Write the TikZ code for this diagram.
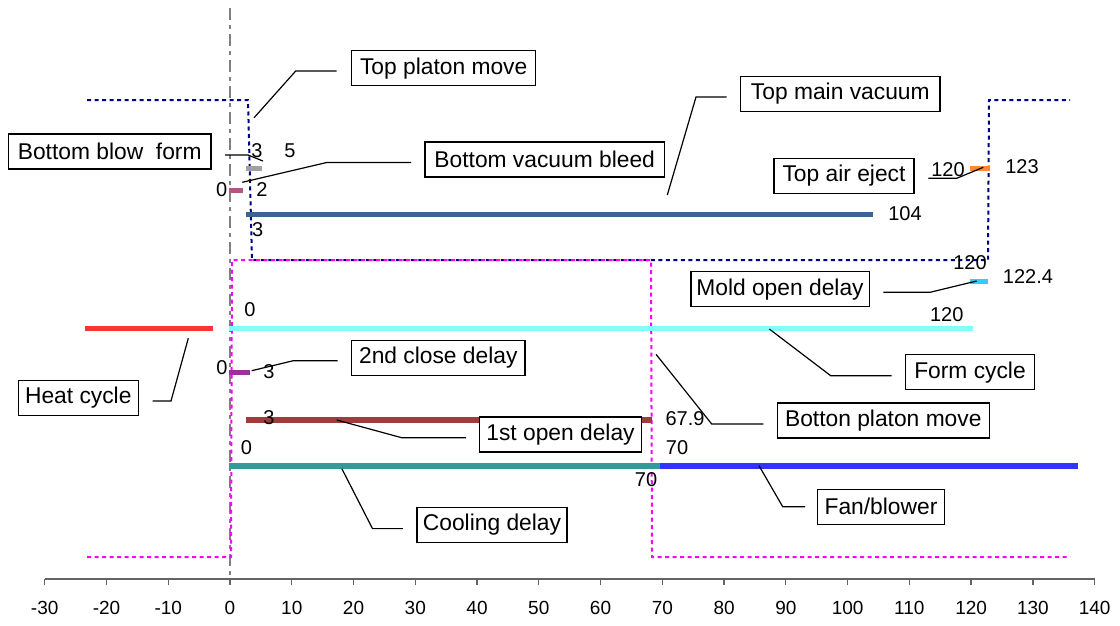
\documentclass[tikz,border=0pt]{standalone}
\usepackage{fontspec}
\setmainfont{Liberation Sans}
\definecolor{navyc}{RGB}{0,0,128}
\definecolor{magc}{RGB}{255,0,255}
\definecolor{axisc}{RGB}{100,100,100}
\definecolor{vaxc}{RGB}{128,128,128}
\definecolor{cgray}{RGB}{160,160,160}
\definecolor{cmauve}{RGB}{176,88,128}
\definecolor{csteel}{RGB}{58,101,144}
\definecolor{corange}{RGB}{255,136,51}
\definecolor{csky}{RGB}{51,204,255}
\definecolor{ccyan}{RGB}{128,255,255}
\definecolor{cred}{RGB}{255,51,51}
\definecolor{cpurple}{RGB}{153,51,153}
\definecolor{cbrick}{RGB}{160,60,60}
\definecolor{cteal}{RGB}{51,153,153}
\definecolor{cblue}{RGB}{51,51,255}
\tikzset{
  lbl/.style={draw=black, line width=1.3pt, fill=white, inner xsep=5pt, inner ysep=0pt,
    minimum height=35pt, font=\fontsize{22.8}{25}\selectfont},
  num/.style={inner sep=0pt, font=\fontsize{20}{23}\selectfont},
  tick/.style={inner sep=0pt, font=\fontsize{19}{22}\selectfont},
  bar/.style={line width=5.5pt},
  callout/.style={draw=black, line width=1.2pt},
  navyline/.style={draw=navyc, line width=2pt, dash pattern=on 4pt off 3.5pt},
  magline/.style={draw=magc, line width=2pt, dash pattern=on 4pt off 3.5pt}
}
\begin{document}
\begin{tikzpicture}[x=1pt,y=-1pt]
\useasboundingbox (0,0) rectangle (1120,625);
% vertical zero line
\draw[vaxc, line width=1.5pt, dash pattern=on 12pt off 5pt on 4pt off 5pt] (230,8) -- (230,579);
% axis
\draw[axisc, line width=1.3pt] (44.5,579) -- (1095,579);
\foreach \v in {-30,-20,...,140} {
  \draw[axisc, line width=1.3pt] ({230+6.176*\v},579) -- ({230+6.176*\v},585);
  \node[tick] at ({230+6.176*\v},608) {\v};
}
% step signals
\draw[navyline] (87,100) -- (248,100) -- (252,260) -- (988,260) -- (989,100) -- (1070,100);
\draw[magline] (87,557) -- (231,557) -- (232,260) -- (651,260) -- (652,557) -- (1070,557);
% bars
\draw[bar, cgray] (246,168.3) -- (262,168.3);
\draw[bar, cmauve] (228.5,190.7) -- (242.5,190.7);
\draw[bar, csteel] (246,214.7) -- (873,214.7);
\draw[bar, corange] (970,168.3) -- (990,168.3);
\draw[bar, csky] (970,281.7) -- (987.5,281.7);
\draw[bar, ccyan] (228.5,328.3) -- (973,328.3);
\draw[bar, cred] (85,328.3) -- (212.5,328.3);
\draw[bar, cpurple] (228.5,372.7) -- (250,372.7);
\draw[bar, cbrick] (246,420) -- (651.5,420);
\draw[bar, cteal] (228.5,466) -- (660,466);
\draw[bar, cblue] (660,466) -- (1077.5,466);
% data labels
\node[num] (n3a) at (257,151) {3};
\node[num] (n5) at (290,151) {5};
\node[num] (n0a) at (221.7,190) {0};
\node[num] (n2) at (262,190) {2};
\node[num] (n3b) at (257.7,230) {3};
\node[num] (n104) at (905,213.3) {104};
\node[num] (n120a) at (948,170) {120};
\node[num] (n123) at (1022,167) {123};
\node[num] (n120b) at (970,263) {120};
\node[num] (n1224) at (1028,277) {122.4};
\node[num] (n0b) at (250,309.3) {0};
\node[num] (n120c) at (946.7,315) {120};
\node[num] (n0c) at (222,367.3) {0};
\node[num] (n3c) at (269,371.7) {3};
\node[num] (n3d) at (269,418) {3};
\node[num] (n679) at (685,419) {67.9};
\node[num] (n0d) at (246.4,448) {0};
\node[num] (n70a) at (646,480) {70};
\node[num] (n70b) at (677,447.7) {70};
% label boxes
\node[lbl, minimum width=184pt] (tpm) at (443.7,68.3) {Top platon move};
\node[lbl, minimum width=202.7pt] (bbf) at (109.7,151.5) {Bottom blow\ \ form};
\node[lbl, minimum width=239.3pt] (bvb) at (544.7,159.5) {Bottom vacuum bleed};
\node[lbl, minimum width=199.3pt] (tmv) at (840.3,93.8) {Top main vacuum};
\node[lbl, minimum width=140pt] (tae) at (844,175.8) {Top air eject};
\node[lbl, minimum width=178.3pt] (mod) at (780,289.2) {Mold open delay};
\node[lbl, minimum width=128.6pt] (fc) at (970,372.3) {Form cycle};
\node[lbl, minimum width=212pt] (bpm) at (883.3,420.5) {Botton platon move};
\node[lbl, minimum width=120pt] (hc) at (78.3,397.8) {Heat cycle};
\node[lbl, minimum width=173.3pt] (scd) at (438.3,358) {2nd close delay};
\node[lbl, minimum width=162.4pt] (fod) at (560.5,434.5) {1st open delay};
\node[lbl, minimum width=150pt] (cd) at (492,525) {Cooling delay};
\node[lbl, minimum width=127pt] (fb) at (881,506.7) {Fan/blower};
% callout end points
\coordinate (tpmE) at (254,117.8);
\coordinate (bbfE) at (263,161);
\coordinate (bvbE) at (242.3,182.3);
\coordinate (tmvE) at (667.3,195);
\coordinate (taeE) at (983.3,167.3);
\coordinate (modE) at (976.7,281);
\coordinate (fcE) at (769.3,329);
\coordinate (bpmE) at (656,354.3);
\coordinate (hcE) at (188.3,338.3);
\coordinate (scdE) at (251.7,370.7);
\coordinate (fodE) at (336.7,420);
\coordinate (cdE) at (341.8,468.6);
\coordinate (fbE) at (759,465.7);
% callouts
\draw[callout] (336.7,71) -- (295.7,71) -- (tpmE);
\draw[callout] (225,155) -- (248,155) -- (bbfE);
\draw[callout] (411,162.5) -- (326.7,162.5) -- (bvbE);
\draw[callout] (726.7,97) -- (696,97) -- (tmvE);
\draw[callout] (928.3,178.3) -- (956.7,178.3) -- (taeE);
\draw[callout] (883.3,292.3) -- (930,292.3) -- (modE);
\draw[callout] (891.7,375.7) -- (830.7,375.7) -- (fcE);
\draw[callout] (763.3,424) -- (711.7,424) -- (bpmE);
\draw[callout] (152.7,401) -- (171,401) -- (hcE);
\draw[callout] (337.7,360.7) -- (293.3,360.7) -- (scdE);
\draw[callout] (466,437.7) -- (401.7,437.7) -- (fodE);
\draw[callout] (402.9,528.6) -- (372.5,528.6) -- (cdE);
\draw[callout] (805,506.7) -- (782.7,506.7) -- (fbE);
\end{tikzpicture}
\end{document}
